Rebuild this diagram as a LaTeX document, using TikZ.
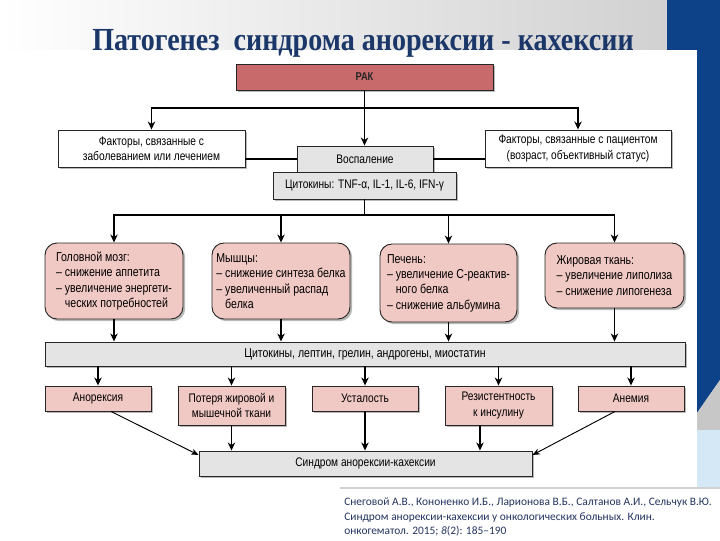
\documentclass[tikz,border=0pt]{standalone}
\usepackage{fontspec}
\usepackage{graphicx}
\setmainfont{Liberation Sans}[FakeStretch=0.82]
\newfontfamily\titlefont{Liberation Serif}
\newfontfamily\citefont{Carlito}
\usetikzlibrary{arrows.meta,shadows,calc}
\definecolor{titleblue}{HTML}{1B3769}
\definecolor{bandblue}{HTML}{0E4288}
\definecolor{lightband}{HTML}{D5E8F6}
\definecolor{rakfill}{HTML}{C8696C}
\definecolor{pinkfill}{HTML}{F1C9C4}
\definecolor{grayfill}{HTML}{E4E4E4}
\definecolor{citeblue}{HTML}{24345F}
\tikzset{
  box/.style={draw=black!85, line width=0.7pt, align=center, inner sep=2pt,
    font=\fontsize{9.3}{11.4}\selectfont,
    drop shadow={shadow xshift=1.6pt, shadow yshift=-1.6pt, fill=black!50, opacity=0.55}},
  wbox/.style={box, fill=white},
  gbox/.style={box, fill=grayfill},
  pbox/.style={box, fill=pinkfill},
  obox/.style={pbox, rounded corners=9pt, align=left, inner xsep=3pt,
    font=\fontsize{9.7}{11.5}\selectfont},
  ln/.style={line width=1.1pt, draw=black},
  arr/.style={ln, -{Stealth[length=6pt,width=5.5pt,inset=1.8pt]}},
  thinarr/.style={line width=0.7pt, draw=black, -{Stealth[length=5.5pt,width=4.5pt,inset=1.5pt]}}
}
\begin{document}
\begin{tikzpicture}[x=0.75pt,y=-0.75pt]
\useasboundingbox (0,0) rectangle (720,540);
% background
\fill[white] (0,0) rectangle (720,540);
\shade[left color=white, right color=black!18] (0,0) rectangle (667,50);
\fill[bandblue] (667,0) -- (720,0) -- (720,380) -- (697,413) -- (667,413) -- cycle;
\fill[black!22] (697,413) -- (720,380) -- (720,430) -- (697,430) -- cycle;
\fill[lightband] (697,430) rectangle (720,488);
\fill[white] (40,50) rectangle (697,488);
\fill[white] (340,488) rectangle (720,540);
\draw[black!18, line width=1pt] (340,488) -- (720,488);
% title
\node[anchor=base, inner sep=0pt, text=titleblue] (title) at (363,50)
  {\resizebox{406pt}{15.8pt}{\titlefont\bfseries Патогенез\ \ синдрома анорексии - кахексии}};
% boxes
\node[box, fill=rakfill, minimum width=192.75pt, minimum height=19.5pt, font=\fontsize{8.5}{10}\selectfont\bfseries, text=black!85] (rak) at (364.5,77) {РАК};
\node[wbox, minimum width=140.25pt, minimum height=27.75pt] (lf) at (151.5,148.5) {Факторы, связанные с\\заболеванием или лечением};
\node[gbox, minimum width=102pt, minimum height=19.5pt] (vos) at (365,159) {Воспаление};
\node[wbox, minimum width=139.5pt, minimum height=27.75pt] (rf) at (578,148.5) {Факторы, связанные с пациентом\\(возраст, объективный статус)};
\node[gbox, minimum width=137.25pt, minimum height=20.25pt] (cyt) at (364.5,185.5) {Цитокины: TNF-α, IL-1, IL-6, IFN-γ};
\node[obox, minimum width=103.5pt, minimum height=57pt] (brain) at (114,281)
  {Головной мозг:\\– снижение аппетита\\– увеличение энергети-\\\phantom{– }ческих потребностей};
\node[obox, minimum width=103.5pt, minimum height=57pt] (muscle) at (281,281)
  {Мышцы:\\– снижение синтеза белка\\– увеличенный распад\\\phantom{– }белка};
\node[obox, minimum width=102.75pt, minimum height=58.5pt] (liver) at (448.5,283)
  {Печень:\\– увеличение С-реактив-\\\phantom{– }ного белка\\– снижение альбумина};
\node[obox, minimum width=104.25pt, minimum height=48.75pt] (fat) at (614.5,275.5)
  {Жировая ткань:\\– увеличение липолиза\\– снижение липогенеза};
\node[gbox, minimum width=480pt, minimum height=18pt, font=\fontsize{9.6}{11.4}\selectfont] (bar) at (365,354) {Цитокины, лептин, грелин, андрогены, миостатин};
\node[pbox, minimum width=79.5pt, minimum height=18.75pt] (anor) at (98,398.5) {Анорексия};
\node[pbox, minimum width=80.25pt, minimum height=29.25pt] (loss) at (231.5,405.5) {Потеря жировой и\\мышечной ткани};
\node[pbox, minimum width=79.5pt, minimum height=18.75pt] (fatig) at (365,398.5) {Усталость};
\node[pbox, minimum width=80.25pt, minimum height=29.25pt] (resist) at (498.5,405.5) {Резистентность\\к инсулину};
\node[pbox, minimum width=79.5pt, minimum height=18.75pt] (anem) at (631,398.5) {Анемия};
\node[gbox, minimum width=249.75pt, minimum height=18.75pt] (synd) at (365.5,463.5) {Синдром анорексии-кахексии};
% connectors
\coordinate (j1) at (364.5,108);
\draw[arr] (rak.south) -- (rak.south |- vos.north);
\draw[arr] (j1) -| (lf.north);
\draw[arr] (j1) -| (rf.north);
\draw[ln] (vos.west) -- (vos.west -| lf.east);
\draw[ln] (vos.east) -- (vos.east -| rf.west);
\coordinate (j2) at (364.5,215);
\draw[ln] (cyt.south) -- (j2);
\draw[arr] (j2) -| (brain.north);
\draw[arr] (j2) -| (fat.north);
\draw[arr] (j2 -| muscle.north) -- (muscle.north);
\draw[arr] (j2 -| liver.north) -- (liver.north);
\foreach \o in {brain,muscle,liver,fat}{
  \draw[arr] (\o.south) -- (\o.south |- bar.north);
}
\foreach \r in {anor,loss,fatig,resist,anem}{
  \draw[arr] (\r.north |- bar.south) -- (\r.north);
}
\draw[thinarr] ([xshift=9.75pt]anor.south) -- ([yshift=6.4pt]synd.west);
\draw[arr] (loss.south) -- (loss.south |- synd.north);
\draw[arr] (fatig.south) -- (fatig.south |- synd.north);
\draw[arr] ([xshift=-13.9pt]resist.south) -- ([xshift=-13.9pt]resist.south |- synd.north);
\draw[thinarr] ([xshift=-12pt]anem.south) -- ([yshift=6.4pt]synd.east);
% citation
\node[anchor=north west, align=left, inner sep=0pt, text=citeblue,
  font=\citefont\fontsize{8.55}{10.6}\selectfont] (cite) at (344,498)
  {Снеговой А.В., Кононенко И.Б., Ларионова В.Б., Салтанов А.И., Сельчук В.Ю.\\
   Синдром анорексии-кахексии у онкологических больных. Клин.\\
   онкогематол. 2015; \textit{8}(2): 185–190};
\end{tikzpicture}
\end{document}
